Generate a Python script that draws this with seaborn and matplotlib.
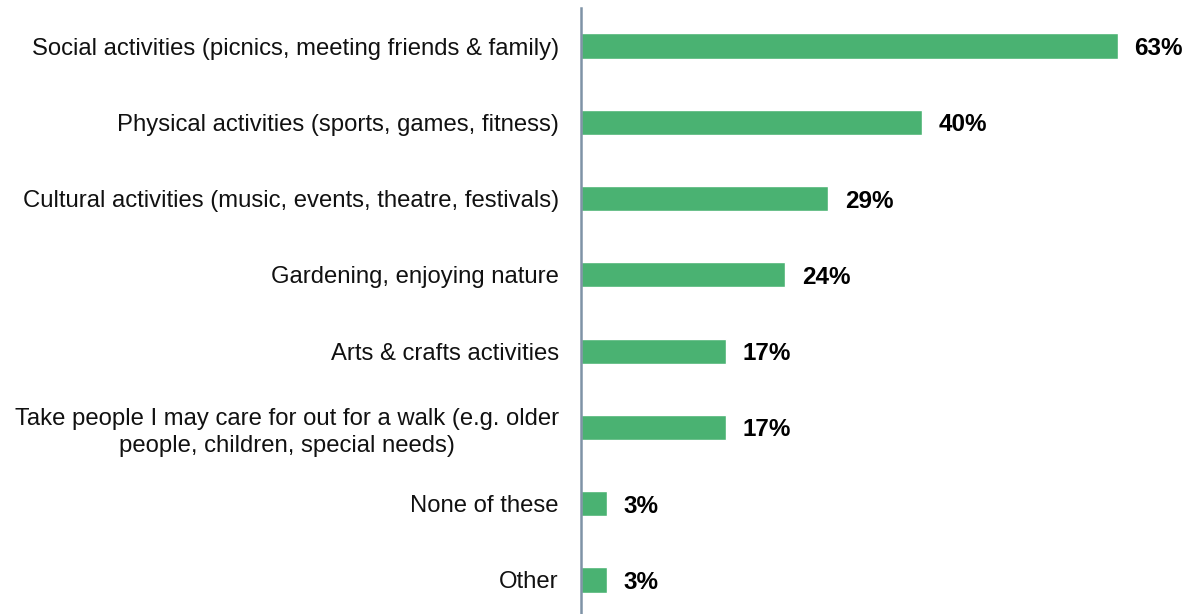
import matplotlib
matplotlib.use("Agg")
import matplotlib.pyplot as plt
import pandas as pd
import seaborn as sns

# Survey answers, top to bottom
activities = [
    "Social activities (picnics, meeting friends & family)",
    "Physical activities (sports, games, fitness)",
    "Cultural activities (music, events, theatre, festivals)",
    "Gardening, enjoying nature",
    "Arts & crafts activities",
    "Take people I may care for out for a walk (e.g. older\npeople, children, special needs)",
    "None of these",
    "Other",
]
shares = [63, 40, 29, 24, 17, 17, 3, 3]

df = pd.DataFrame({"activity": activities, "share": shares})

sns.set_theme(style="white")
plt.rcParams["font.family"] = ["Liberation Sans", "DejaVu Sans"]

fig = plt.figure(figsize=(11.92, 6.14), dpi=100)
ax = fig.add_axes([581 / 1192, 1 - 618.1 / 614, 611 / 1192, 610.2 / 614])

sns.barplot(data=df, x="share", y="activity", color="#4ab272",
            saturation=1, width=0.33, ax=ax)

for i, v in enumerate(shares):
    ax.text(v + 1.95, i, f"{v}%", va="center_baseline", ha="left",
            fontsize=17.5, fontweight="bold", color="black")

ax.set_xlim(0, 611 / 8.52)
ax.set_ylim(7.5, -0.5)
ax.set_xlabel("")
ax.set_ylabel("")
ax.set_xticks([])
ax.tick_params(axis="y", length=0, pad=16, labelsize=17.2, labelcolor="#111111")
for lbl in ax.get_yticklabels():
    lbl.set_multialignment("center")
    lbl.set_linespacing(1.3)

for side in ["top", "right", "bottom"]:
    ax.spines[side].set_visible(False)
ax.spines["left"].set_color("#7f93a6")
ax.spines["left"].set_linewidth(1.8)

fig.savefig("out.png", dpi=100)
